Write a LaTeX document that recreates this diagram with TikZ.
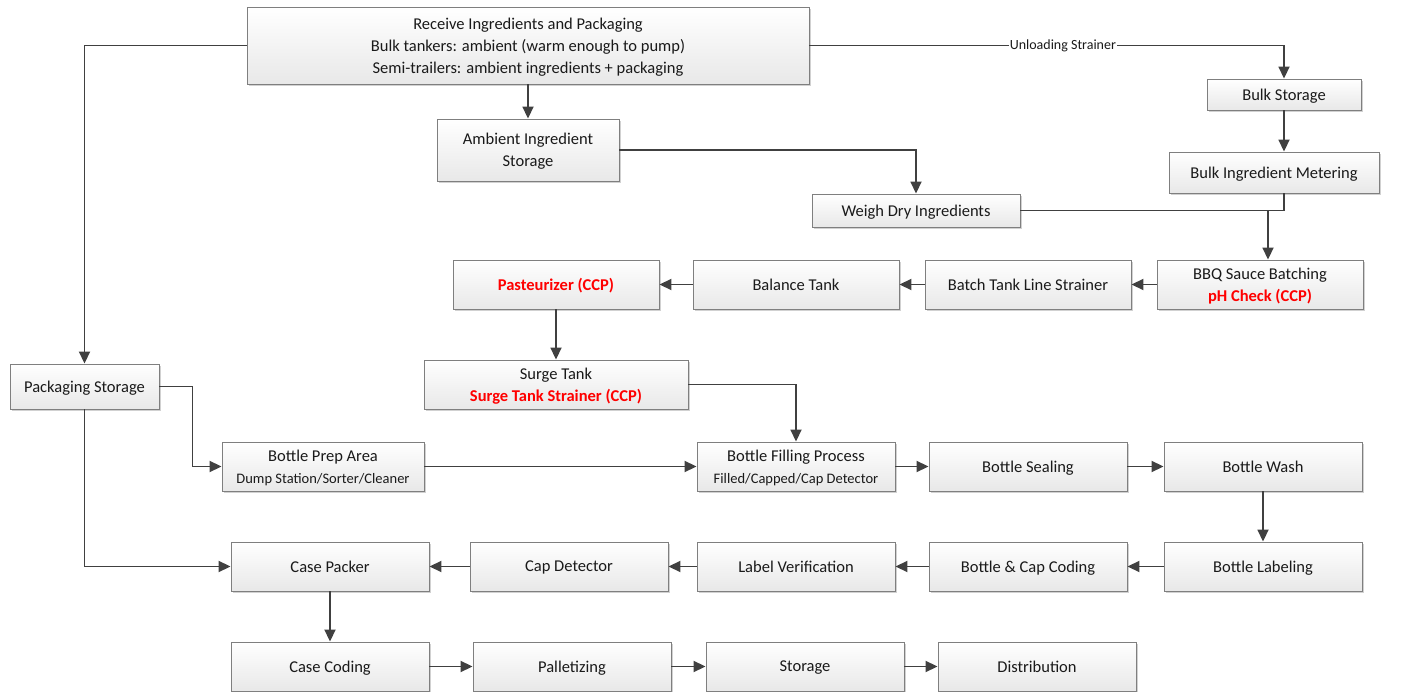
\documentclass[tikz,border=0pt]{standalone}
\usepackage{fontspec}
\setmainfont{Carlito}
\usetikzlibrary{arrows.meta,shadows}
\definecolor{linec}{HTML}{404040}
\definecolor{boxc}{HTML}{7F7F7F}
\definecolor{txtc}{HTML}{1A1A1A}
\definecolor{ccp}{HTML}{FF0000}
\tikzset{
  x=1pt, y=-1pt,
  box/.style={draw=boxc, line width=0.9pt, top color=white, bottom color=black!9,
    drop shadow={shadow xshift=2pt, shadow yshift=-2pt, opacity=0.18, fill=black},
    inner sep=0pt, align=center, text=txtc, text depth=0pt,
    font=\fontsize{16.5}{22}\selectfont},
  conn/.style={draw=linec, line width=1.8pt},
  arr/.style={conn, -{Triangle[length=12pt,width=11pt]}},
  lbl/.style={fill=white, inner sep=1pt, text=txtc, font=\fontsize{14}{15}\selectfont}
}
\newcommand{\ccptext}[1]{\textcolor{ccp}{\bfseries #1}}
\newcommand{\smalltext}[1]{{\fontsize{14.5}{18}\selectfont #1}}
\begin{document}
\begin{tikzpicture}
\useasboundingbox (0,0) rectangle (1409,692);
% nodes
\node[box, minimum width=562pt, minimum height=77pt] (recv) at (528,45.5)
  {Receive Ingredients and Packaging\\Bulk tankers: ambient (warm enough to pump)\\Semi-trailers: ambient ingredients + packaging};
\node[box, minimum width=182pt, minimum height=62pt] (amb) at (528,150) {Ambient Ingredient\\Storage};
\node[box, minimum width=154pt, minimum height=31pt] (bulk) at (1284,94.5) {Bulk Storage};
\node[box, minimum width=210pt, minimum height=41pt] (meter) at (1274,172.5) {Bulk Ingredient Metering};
\node[box, minimum width=208pt, minimum height=33pt] (weigh) at (916,210.5) {Weigh Dry Ingredients};
\node[box, minimum width=206pt, minimum height=49pt] (bbq) at (1260,284.5) {BBQ Sauce Batching\\\ccptext{pH Check (CCP)}};
\node[box, minimum width=206pt, minimum height=49pt] (btls) at (1028,284.5) {Batch Tank Line Strainer};
\node[box, minimum width=206pt, minimum height=49pt] (bal) at (796,284.5) {Balance Tank};
\node[box, minimum width=206pt, minimum height=49pt] (past) at (556,284.5) {\ccptext{Pasteurizer (CCP)}};
\node[box, minimum width=264pt, minimum height=49pt] (surge) at (556,384.5) {Surge Tank\\\ccptext{Surge Tank Strainer (CCP)}};
\node[box, minimum width=149pt, minimum height=45pt] (pkg) at (84.5,386.5) {Packaging Storage};
\node[box, minimum width=202pt, minimum height=49pt] (prep) at (323,466.5) {Bottle Prep Area\\\smalltext{Dump Station/Sorter/Cleaner}};
\node[box, minimum width=198pt, minimum height=49pt] (fill) at (796,466.5) {Bottle Filling Process\\\smalltext{Filled/Capped/Cap Detector}};
\node[box, minimum width=198pt, minimum height=49pt] (seal) at (1028,466.5) {Bottle Sealing};
\node[box, minimum width=198pt, minimum height=49pt] (wash) at (1263,466.5) {Bottle Wash};
\node[box, minimum width=198pt, minimum height=49pt] (label) at (1263,566.5) {Bottle Labeling};
\node[box, minimum width=198pt, minimum height=49pt] (bcc) at (1028,566.5) {Bottle \& Cap Coding};
\node[box, minimum width=198pt, minimum height=49pt] (lv) at (796,566.5) {Label Verification};
\node[box, minimum width=198pt, minimum height=49pt] (cap) at (569,566.5) {Cap Detector};
\node[box, minimum width=198pt, minimum height=49pt] (cp) at (330,566.5) {Case Packer};
\node[box, minimum width=198pt, minimum height=49pt] (cc) at (330,666.5) {Case Coding};
\node[box, minimum width=198pt, minimum height=49pt] (pal) at (572,666.5) {Palletizing};
\node[box, minimum width=198pt, minimum height=49pt] (sto) at (805,666.5) {Storage};
\node[box, minimum width=198pt, minimum height=49pt] (dist) at (1037,666.5) {Distribution};
\coordinate (j) at (1268,210.5);
% connectors
\draw[arr] (recv.west) -| (pkg.north);
\draw[arr] (recv.east) -| node[lbl, pos=0.267] {Unloading Strainer} (bulk.north);
\draw[arr] (recv.south) -- (amb.north);
\draw[arr] (amb.east) -| (weigh.north);
\draw[arr] (bulk.south) -- (bulk.south |- meter.north);
\draw[conn] (weigh.east) -| (meter.south -| bulk.south);
\draw[arr] (j) -- (j |- bbq.north);
\draw[arr] (bbq.west) -- (btls.east);
\draw[arr] (btls.west) -- (bal.east);
\draw[arr] (bal.west) -- (past.east);
\draw[arr] (past.south) -- (surge.north);
\draw[arr] (surge.east) -| (fill.north);
\draw[arr] (pkg.east) -- ++(33,0) |- (prep.west);
\draw[arr] (prep.east) -- (fill.west);
\draw[arr] (pkg.south) |- (cp.west);
\draw[arr] (fill.east) -- (seal.west);
\draw[arr] (seal.east) -- (wash.west);
\draw[arr] (wash.south) -- (label.north);
\draw[arr] (label.west) -- (bcc.east);
\draw[arr] (bcc.west) -- (lv.east);
\draw[arr] (lv.west) -- (cap.east);
\draw[arr] (cap.west) -- (cp.east);
\draw[arr] (cp.south) -- (cc.north);
\draw[arr] (cc.east) -- (pal.west);
\draw[arr] (pal.east) -- (sto.west);
\draw[arr] (sto.east) -- (dist.west);
\end{tikzpicture}
\end{document}
